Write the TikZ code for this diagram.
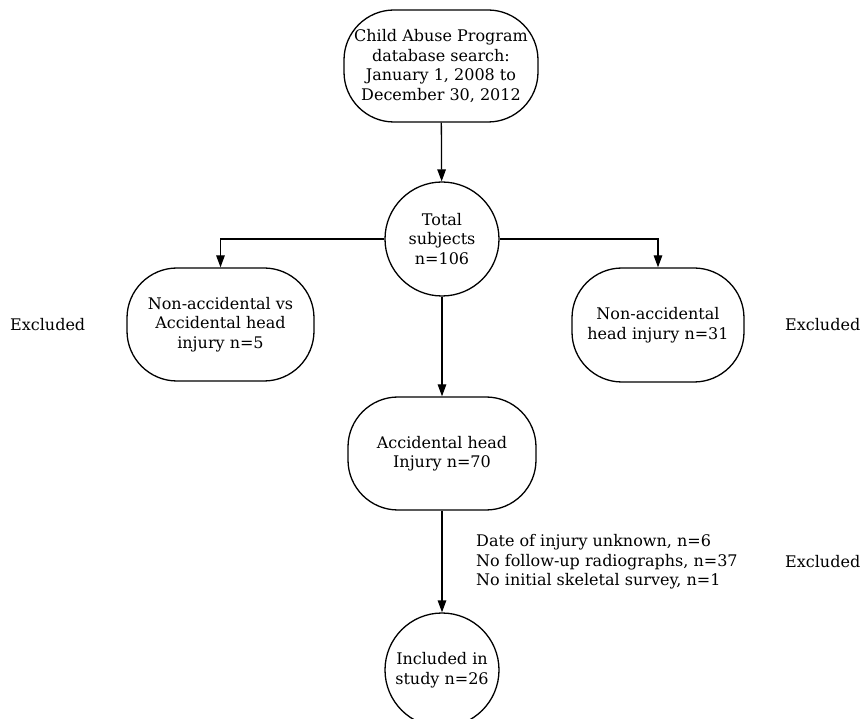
\documentclass[tikz,border=0pt]{standalone}
\usepackage{fontspec}
\setmainfont{DejaVu Serif}
\usetikzlibrary{arrows.meta}
\begin{document}
\begin{tikzpicture}[x=1pt,y=-1pt,
  every node/.style={font=\fontsize{16}{19.5}\selectfont, align=center, inner sep=0pt},
  stadium/.style={draw, line width=1.3pt, rounded corners=50pt},
  roundnode/.style={draw, line width=1.3pt, circle},
  conn/.style={line width=1.3pt, -{Triangle[length=12pt,width=8.5pt]}}]
\useasboundingbox (0,0) rectangle (863,719);
\node[stadium, minimum width=194pt, minimum height=112pt] (top) at (441,66) {Child Abuse Program\\database search:\\January 1, 2008 to\\December 30, 2012};
\node[roundnode, minimum size=114pt] (total) at (442,239) {Total\\subjects\\n=106};
\node[stadium, minimum width=187pt, minimum height=113pt] (left) at (220.5,324.5) {Non-accidental vs\\Accidental head\\injury n=5};
\node[stadium, minimum width=172pt, minimum height=114pt] (right) at (658,325) {Non-accidental\\head injury n=31};
\node[stadium, minimum width=188pt, minimum height=113pt] (acc) at (442,453.5) {Accidental head\\Injury n=70};
\node[roundnode, minimum size=114pt] (incl) at (442,670) {Included in\\study n=26};
\node[anchor=west] (exl) at (10,325) {Excluded};
\node[anchor=west] (exr) at (785,325) {Excluded};
\node[anchor=west, align=left] (reasons) at (476,562) {Date of injury unknown, n=6\\No follow-up radiographs, n=37\\No initial skeletal survey, n=1};
\node[anchor=west] (exb) at (785,562) {Excluded};
\draw[conn] (top) -- (total);
\draw[conn] (total.west) -| (left.north);
\draw[conn] (total.east) -| (right.north);
\draw[conn] (total) -- (acc);
\draw[conn] (acc) -- (incl);
\end{tikzpicture}
\end{document}
